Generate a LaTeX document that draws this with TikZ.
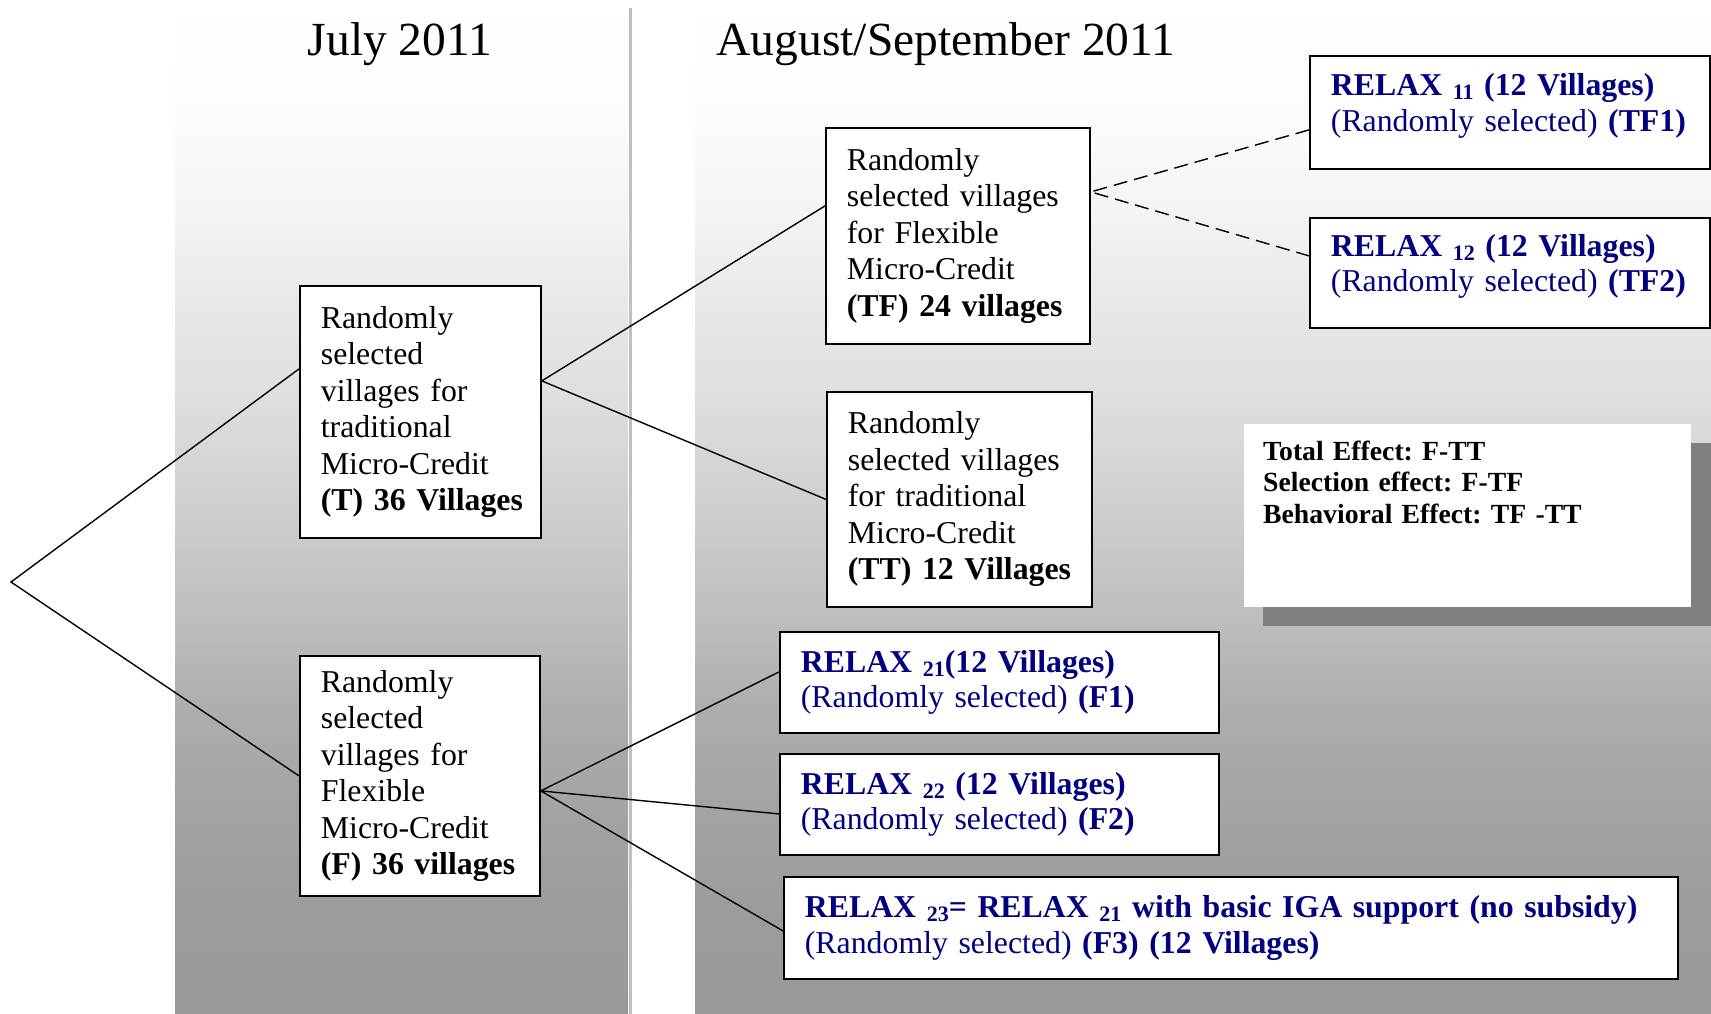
\documentclass[tikz,border=0pt]{standalone}
\usepackage{fontspec}
\setmainfont{Liberation Serif}
\hyphenpenalty=10000
\exhyphenpenalty=10000
\frenchspacing
\definecolor{relaxblue}{HTML}{000080}
% backdrop of the two periods
\pgfdeclareverticalshading{stage}{100bp}{color(0bp)=(black!40); color(25bp)=(black!40);
  color(30bp)=(black!39); color(35bp)=(black!36); color(40bp)=(black!32);
  color(45bp)=(black!25); color(50bp)=(black!19); color(55bp)=(black!13);
  color(60bp)=(black!9); color(65bp)=(black!4); color(70bp)=(black!1);
  color(75bp)=(white); color(100bp)=(white)}
\newcommand\relaxsub[1]{\raisebox{-4pt}{\fontsize{22}{22}\selectfont #1}}
\begin{document}
\begin{tikzpicture}[x=1pt,y=-1pt,
    stagebox/.style={draw,line width=1.8pt,fill=white,anchor=north west,inner xsep=21pt,
      inner ysep=0pt,align=left,font=\fontsize{31.8}{36.5}\selectfont},
    relaxbox/.style={stagebox,text=relaxblue,font=\fontsize{31.8}{35.5}\selectfont},
    branch/.style={line width=1.4pt},
    subbranch/.style={branch,dash pattern=on 14pt off 7pt},
    period/.style={font=\fontsize{47.5}{55}\selectfont,anchor=base}]
  \useasboundingbox (0,0) rectangle (1711,1014);
  \shade[shading=stage] (175,0) rectangle (628,1014);
  \shade[shading=stage] (695,0) rectangle (1711,1014);
  \draw[line width=3pt,black!25] (630,8) -- (630,1014);
  \node[period] (july) at (400,56) {July 2011};
  \node[period] (augsep) at (946,56) {August/September 2011};
  % first stage
  \coordinate (root) at (11,582);
  \node[stagebox,minimum width=241pt,minimum height=252pt,text width=199pt] (tbox) at (299,285)
    {Randomly\\selected\\villages~for\\traditional\\Micro-Credit\\\textbf{(T)~36~Villages}};
  \node[stagebox,minimum width=240pt,minimum height=240pt,text width=198pt] (fbox) at (299,655)
    {Randomly\\selected\\villages~for\\Flexible\\Micro-Credit\\\textbf{(F)~36~villages}};
  % second stage
  \node[stagebox,minimum width=264pt,minimum height=216pt,text width=222pt] (tfbox) at (825,127)
    {Randomly\\selected~villages\\for~Flexible\\Micro-Credit\\\textbf{(TF)~24~villages}};
  \node[stagebox,minimum width=265pt,minimum height=215pt,text width=223pt] (ttbox) at (826,391)
    {Randomly\\selected~villages\\for~traditional\\Micro-Credit\\\textbf{(TT)~12~Villages}};
  \node[relaxbox,minimum width=400pt,minimum height=113pt,text width=358pt,text depth=55pt] (r11) at (1309,55)
    {\textbf{RELAX \relaxsub{11} (12 Villages)}\\(Randomly selected) \textbf{(TF1)}};
  \node[relaxbox,minimum width=400pt,minimum height=110pt,text width=358pt,text depth=55pt] (r12) at (1309,217)
    {\textbf{RELAX \relaxsub{12} (12 Villages)}\\(Randomly selected) \textbf{(TF2)}};
  \node[relaxbox,minimum width=439pt,minimum height=101pt,text width=397pt] (f1) at (779,631)
    {\textbf{RELAX \relaxsub{21}(12 Villages)}\\(Randomly selected) \textbf{(F1)}};
  \node[relaxbox,minimum width=439pt,minimum height=101pt,text width=397pt] (f2) at (779,753)
    {\textbf{RELAX \relaxsub{22} (12 Villages)}\\(Randomly selected) \textbf{(F2)}};
  \node[relaxbox,minimum width=894pt,minimum height=102pt,text width=852pt] (f3) at (783,876)
    {\textbf{RELAX \relaxsub{23}= RELAX \relaxsub{21} with basic IGA support (no subsidy)}\\
     (Randomly selected) \textbf{(F3) (12 Villages)}};
  % effects
  \fill[black!50] (1263,443) rectangle (1711,626);
  \fill[white] (1244,424) rectangle (1691,607);
  \node[anchor=base west,inner sep=0pt,text width=420pt,align=left,
    font=\fontsize{27.7}{31.5}\selectfont\bfseries] (effects) at (1263,460)
    {Total Effect: F-TT\\Selection effect: F-TF\\Behavioral Effect: TF -TT};
  % branches
  \draw[branch] ([yshift=43pt]tbox.west) -- (root) -- (fbox.west);
  \draw[branch] ([yshift=30pt]tfbox.west) -- ([yshift=31pt]tbox.east) -- (ttbox.west);
  \draw[subbranch] ([yshift=-17.5pt]r11.west) -- ([yshift=44pt]tfbox.east) -- ([yshift=17pt]r12.west);
  \draw[branch] ([yshift=10.5pt]f1.west) -- ([yshift=-15pt]fbox.east) -- ([yshift=-9.5pt]f2.west);
  \draw[branch] ([yshift=-15pt]fbox.east) -- ([yshift=-3pt]f3.west);
\end{tikzpicture}
\end{document}
